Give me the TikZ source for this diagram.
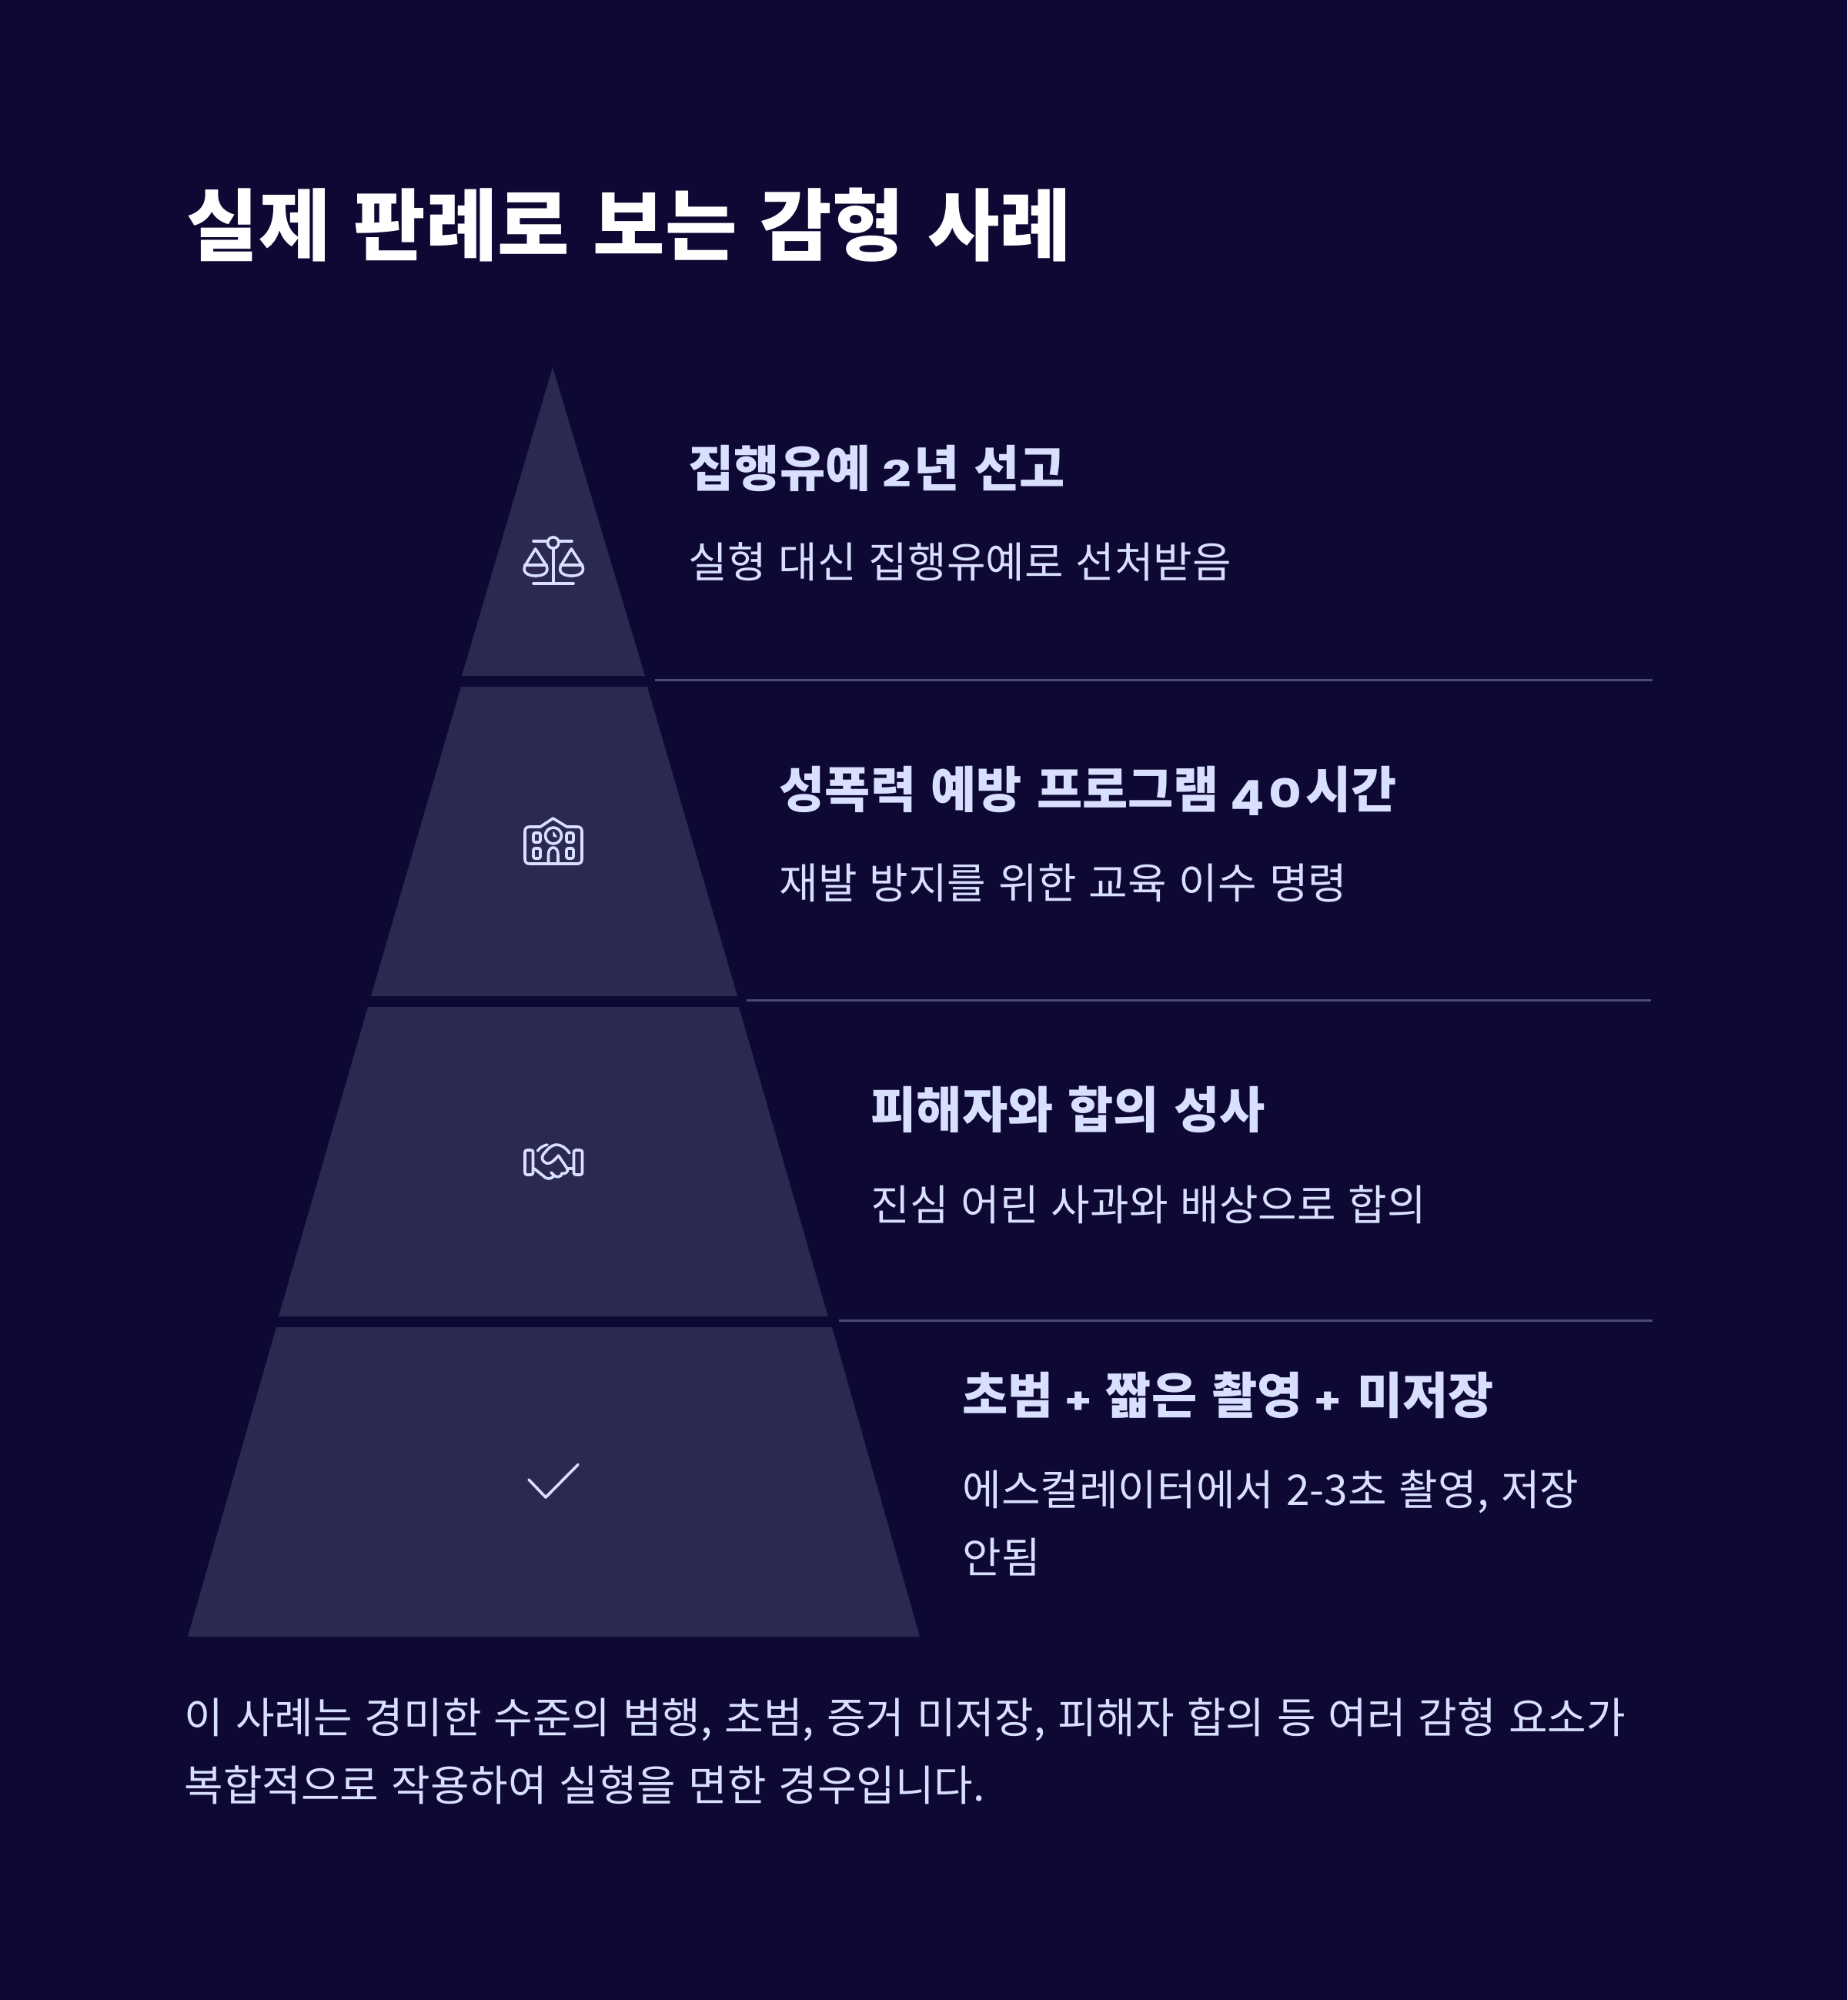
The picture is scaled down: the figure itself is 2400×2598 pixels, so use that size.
\documentclass[tikz,border=0pt]{standalone}
\usepackage{fontspec}
\setmainfont[WordSpace=1.3]{Noto Sans CJK KR}
\newfontfamily\dgfont[FakeStretch=1.4,Scale=0.73]{Poppins}
\newfontfamily\plusfont[FakeStretch=1.2,Scale=0.73]{Poppins}
\newcommand{\dg}[1]{{\dgfont\bfseries #1}}
\newcommand{\plusg}{{\plusfont\bfseries +}}
\definecolor{bgc}{HTML}{0D0934}
\definecolor{trap}{HTML}{2B2950}
\definecolor{ink}{HTML}{D9DFFF}
\definecolor{rulec}{HTML}{4C4B75}
\tikzset{
 ttl/.style={anchor=base west,inner sep=0pt,text=white,font=\fontsize{28.9pt}{36pt}\selectfont\bfseries},
 hd/.style={anchor=base west,inner sep=0pt,text=ink,font=\fontsize{18.3pt}{22pt}\selectfont\bfseries},
 ds/.style={anchor=base west,inner sep=0pt,text=ink,font=\fontsize{15.63pt}{20pt}\selectfont},
 tier/.style={fill=trap},
 sep/.style={draw=rulec,line width=0.3mm},
 ico/.style={draw=ink,line width=0.36mm,line cap=round,line join=round},
}
\begin{document}
\begin{tikzpicture}[x=0.01cm,y=-0.01cm]
\fill[bgc] (0,0) rectangle (2400,2598);
\useasboundingbox (0,0) rectangle (2400,2598);
% tiers
\fill[tier] (718,477) -- (838,878) -- (600,878) -- cycle;
\fill[tier] (599,892) -- (841,892) -- (958,1294) -- (482,1294) -- cycle;
\fill[tier] (478,1308) -- (960,1308) -- (1075.7,1710) -- (362,1710) -- cycle;
\fill[tier] (359,1724) -- (1081,1724) -- (1195,2126) -- (244,2126) -- cycle;
% separators
\draw[sep] (851,883) -- (2147,883);
\draw[sep] (970,1299) -- (2145,1299);
\draw[sep] (1090,1715) -- (2147,1715);
% title
\node[ttl] (title) at (242,331) {실제 판례로 보는 감형 사례};
% items
\node[hd] (h1) at (894,633) {집행유예 \hspace{-0.4mm}\dg{2}\hspace{0.3mm}년 선고};
\node[ds] (d1) at (894,751) {실형 대신 집행유예로 선처받음};
\node[hd] (h2) at (1012,1049) {성폭력 예방 프로그램 \hspace{-0.5mm}\raisebox{-1mm}{\scalebox{1}[1.35]{\dg{4}}}\hspace{0.6mm}\scalebox{1}[1.1]{\dg{0}}\hspace{0.5mm}시간};
\node[ds] (d2) at (1012,1167) {재발 방지를 위한 교육 이수 명령};
\node[hd] (h3) at (1131,1465) {피해자와 합의 성사};
\node[ds] (d3) at (1131,1585) {진심 어린 사과와 배상으로 합의};
\node[hd] (h4) at (1250,1836) {초범 \hspace{-0.5mm}\plusg\hspace{-0.1mm} 짧은 촬영 \hspace{-0.4mm}\plusg\hspace{0.1mm} 미저장};
\node[ds] (d4a) at (1250,1955) {에스컬레이터에서 2-3초 촬영, 저장};
\node[ds] (d4b) at (1250,2043) {안됨};
\node[ds] (p1) at (239,2251) {이 사례는 경미한 수준의 범행, 초범, 증거 미저장, 피해자 합의 등 여러 감형 요소가};
\node[ds] (p2) at (239,2339) {복합적으로 작용하여 실형을 면한 경우입니다.};
% scales icon
\begin{scope}[ico]
\draw (693,703) -- (711.5,703) (726,703) -- (743,703);
\draw (718.7,705) circle[radius=7.2];
\draw (718.7,712) -- (718.7,758);
\draw (693,758) -- (745,758);
\draw (695.7,713) -- (682,735) .. controls (678,745) and (688,748) .. (696,748) .. controls (704,748) and (714,745) .. (710,735) -- cycle;
\draw (682,734) -- (710,734);
\draw (742.3,713) -- (728.6,735) .. controls (724.6,745) and (734.6,748) .. (742.6,748) .. controls (750.6,748) and (760.6,745) .. (756.6,735) -- cycle;
\draw (728.6,734) -- (756.6,734);
\end{scope}
% school icon
\begin{scope}[ico]
\draw (702,1074) -- (718.5,1063) -- (736.5,1074) -- (750,1074) .. controls (754,1074) and (756,1076) .. (756,1080) -- (756,1116) .. controls (756,1120) and (754,1122) .. (750,1122) -- (688,1122) .. controls (684,1122) and (682,1120) .. (682,1116) -- (682,1080) .. controls (682,1076) and (684,1074) .. (688,1074) -- cycle;
\draw (719,1085.5) circle[radius=10.5];
\draw[fill=ink,line width=0.15mm] (719,1081) -- (719,1086) -- (723,1087) -- cycle;
\draw[rounded corners=0.2mm] (693,1082) rectangle (702,1094);
\draw[rounded corners=0.2mm] (736,1082) rectangle (745,1094);
\draw[rounded corners=0.2mm] (693,1102) rectangle (702,1115);
\draw[rounded corners=0.2mm] (736,1102) rectangle (745,1115);
\draw (712.5,1121) -- (712.5,1110) .. controls (712.5,1098) and (725,1098) .. (725,1110) -- (725,1121);
\end{scope}
% handshake icon
\begin{scope}[ico]
\draw[rounded corners=0.25mm] (682,1494) rectangle (692.5,1526);
\draw[rounded corners=0.25mm] (745.5,1494) rectangle (756.5,1526);
\draw (698.5,1495) .. controls (701,1491) and (706,1488) .. (711,1487);
\draw (740,1498) .. controls (735,1491) and (730,1487) .. (722,1487) .. controls (716,1488) and (712,1492) .. (708,1497) -- (705.5,1500) .. controls (703,1505) and (705,1509) .. (710,1511) .. controls (714,1512) and (718,1510) .. (725.5,1501) -- (737,1518) .. controls (739,1522) and (734,1526) .. (730,1524) .. controls (730,1529) and (723,1530) .. (720,1527) .. controls (717,1531) and (713,1532) .. (709,1530) -- (694,1518);
\draw (737,1518) -- (745.5,1518);
\draw (720,1527) -- (716,1523);
\end{scope}
% check icon
\draw[ico] (687,1922) -- (709,1945) -- (751,1902.5);
\end{tikzpicture}
\end{document}
